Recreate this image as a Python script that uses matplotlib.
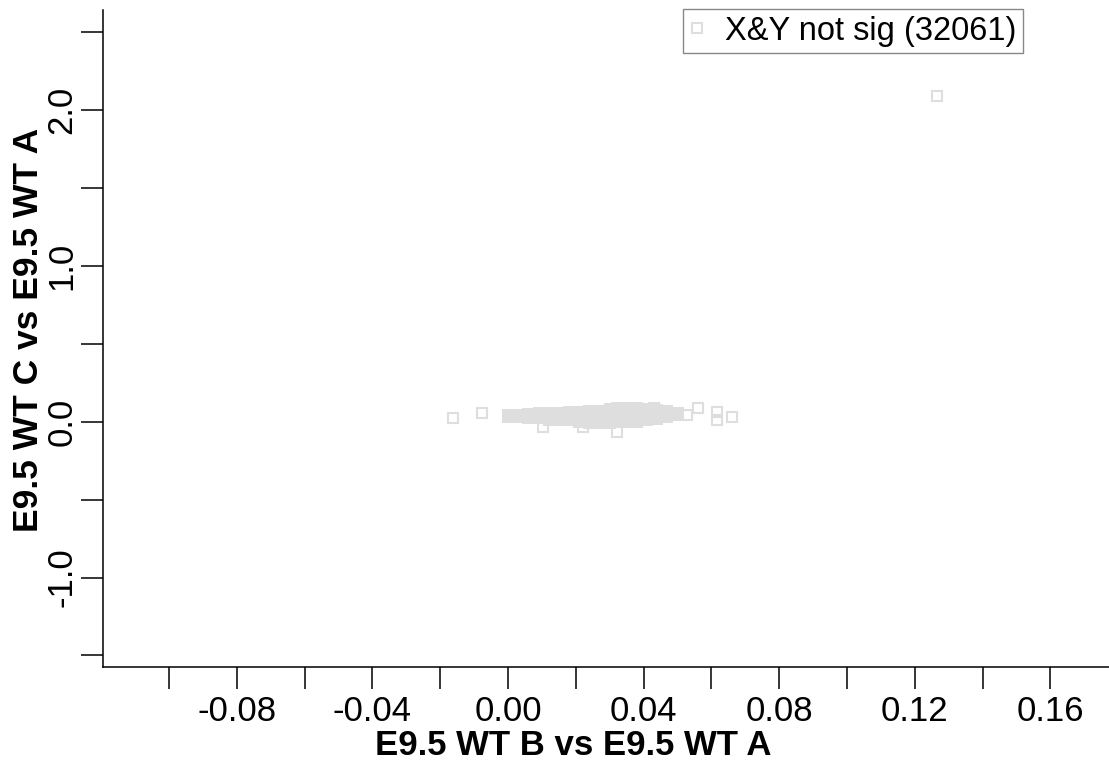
import matplotlib.pyplot as plt

plt.rcParams['font.family'] = 'Liberation Sans'

# sparse (isolated) points
sparse_x = [-0.0162, -0.0077, 0.0103, 0.0221, 0.0322, 0.0430, 0.0528, 0.0560, 0.0616, 0.0616, 0.0661, 0.1266]
sparse_y = [0.024, 0.056, -0.034, -0.034, -0.066, 0.088, 0.043, 0.088, 0.062, 0.011, 0.030, 2.09]

# dense core of the cloud: column x, top / middle / bottom y
core_x = [0.000, 0.003, 0.006, 0.009, 0.012, 0.015, 0.018, 0.021, 0.024,
          0.027, 0.030, 0.032, 0.035, 0.038, 0.041, 0.044, 0.047, 0.050]
core_top = [0.043, 0.043, 0.049, 0.056, 0.056, 0.056, 0.062, 0.062, 0.069,
            0.069, 0.082, 0.088, 0.088, 0.088, 0.082, 0.075, 0.069, 0.056]
core_mid = [0.036, 0.036, 0.036, 0.040, 0.034, 0.034, 0.036, 0.030, 0.030,
            0.030, 0.037, 0.043, 0.043, 0.043, 0.046, 0.046, 0.050, 0.050]
core_bot = [0.030, 0.030, 0.024, 0.024, 0.011, 0.011, 0.011, -0.002, -0.008,
            -0.008, -0.008, -0.002, -0.002, -0.002, 0.011, 0.017, 0.030, 0.043]

n_points = 32061
grey = '#dedede'

fig = plt.figure(figsize=(11.09, 7.63), dpi=100)
ax = fig.add_axes([103/1109, 96/763, 1006/1109, 657/763])

core_xs = core_x * 3
core_ys = core_top + core_mid + core_bot
ax.plot(core_xs, core_ys, linestyle='none', marker='s', markersize=7.5,
        markerfacecolor=grey, markeredgecolor=grey, markeredgewidth=1.4)
ax.plot(sparse_x, sparse_y, linestyle='none', marker='s', markersize=6.5,
        markerfacecolor='none', markeredgecolor=grey, markeredgewidth=1.5,
        label='X&Y not sig (%d)' % n_points)

ax.set_xlim(-0.1195, 0.1773)
ax.set_ylim(-1.574, 2.64)

xt = [-0.10, -0.08, -0.06, -0.04, -0.02, 0.00, 0.02, 0.04, 0.06, 0.08, 0.10, 0.12, 0.14, 0.16]
ax.set_xticks(xt)
ax.set_xticklabels(['%.2f' % v if i % 2 == 1 else '' for i, v in enumerate(xt)])
yt = [-1.5, -1.0, -0.5, 0.0, 0.5, 1.0, 1.5, 2.0, 2.5]
ax.set_yticks(yt)
ax.set_yticklabels(['%.1f' % v if i % 2 == 1 else '' for i, v in enumerate(yt)])

ax.tick_params(direction='out', length=15.5, width=1.1, labelsize=25, pad=5)
ax.tick_params(axis='y', labelrotation=90, pad=2)
for lab in ax.get_yticklabels():
    lab.set_va('center')

ax.spines['top'].set_visible(False)
ax.spines['right'].set_visible(False)
ax.spines['left'].set_linewidth(1.1)
ax.spines['bottom'].set_linewidth(1.1)

ax.set_xlabel('E9.5 WT B vs E9.5 WT A', fontsize=25, fontweight='bold')
ax.set_ylabel('E9.5 WT C vs E9.5 WT A', fontsize=25.5, fontweight='bold')
ax.xaxis.set_label_coords(0.467, -0.095)
ax.yaxis.set_label_coords(-0.058, 0.513)

leg = ax.legend(loc='upper right', bbox_to_anchor=(1023/1109, 1 - 9/763),
                bbox_transform=fig.transFigure, borderaxespad=0, fontsize=23.5,
                handlelength=0.5, handletextpad=0.6, borderpad=0.2,
                fancybox=False, framealpha=1)
leg.get_frame().set_edgecolor('#888888')
leg.get_frame().set_linewidth(1.0)

fig.savefig('out.png', dpi=100)
